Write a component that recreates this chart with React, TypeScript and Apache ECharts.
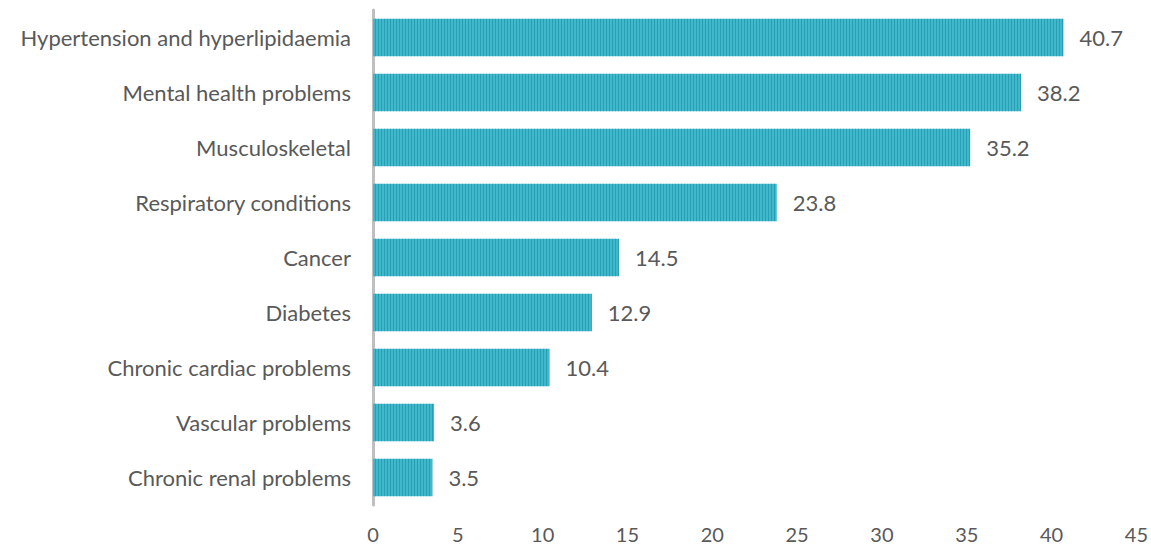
import React, { useEffect, useRef } from "react";
import * as echarts from "echarts";

const categories = [
  "Hypertension and hyperlipidaemia",
  "Mental health problems",
  "Musculoskeletal",
  "Respiratory conditions",
  "Cancer",
  "Diabetes",
  "Chronic cardiac problems",
  "Vascular problems",
  "Chronic renal problems",
];
const values = [40.7, 38.2, 35.2, 23.8, 14.5, 12.9, 10.4, 3.6, 3.5];
const xTicks = { min: 0, max: 45, interval: 5 };

const FONT = "Lato";
const TEXT = "#595959";

export default function App() {
  const ref = useRef<HTMLDivElement>(null);
  useEffect(() => {
    if (!ref.current) return;
    const chart = echarts.init(ref.current, null, { renderer: "svg" });
    chart.setOption({
      animation: false,
      backgroundColor: "#ffffff",
      grid: { left: 373, right: 13, top: 10, bottom: 42, containLabel: false },
      xAxis: {
        type: "value",
        min: xTicks.min,
        max: xTicks.max,
        interval: xTicks.interval,
        axisLine: { show: false },
        axisTick: { show: false },
        splitLine: { show: false },
        axisLabel: {
          color: TEXT,
          fontFamily: FONT,
          fontSize: 20,
          lineHeight: 20,
          margin: 19,
        },
      },
      yAxis: {
        type: "category",
        data: categories,
        inverse: true,
        axisLine: { show: true, lineStyle: { color: "#bfbfbf", width: 3 } },
        axisTick: { show: false },
        axisLabel: { color: TEXT, fontFamily: FONT, fontSize: 22, margin: 22 },
      },
      series: [
        {
          type: "bar",
          data: values,
          barCategoryGap: "32%",
          itemStyle: {
            color: "#40b8cc",
            decal: {
              symbol: "rect",
              dashArrayX: [1, 2],
              dashArrayY: [1, 0],
              rotation: 0,
              color: "rgba(10,120,140,0.4)",
              symbolSize: 1,
            },
          },
          label: {
            show: true,
            position: "right",
            distance: 16,
            color: TEXT,
            fontFamily: FONT,
            fontSize: 22,
          },
        },
      ],
    });
    return () => chart.dispose();
  }, []);
  return (
    <div
      ref={ref}
      style={{ position: "fixed", left: 0, top: 0, width: 1151, height: 547 }}
    />
  );
}
